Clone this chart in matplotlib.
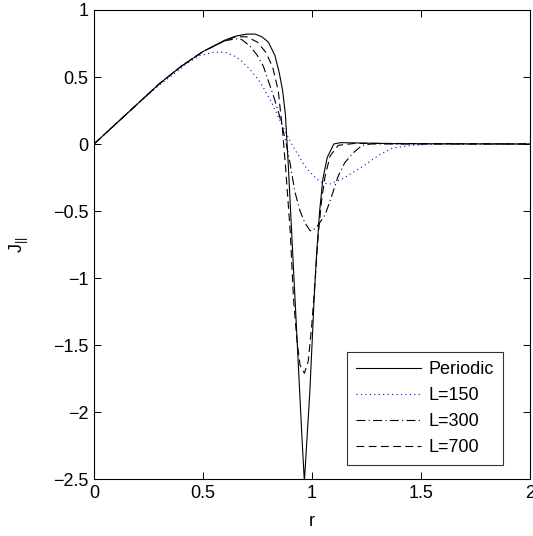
import matplotlib
matplotlib.use("Agg")
import matplotlib.pyplot as plt

plt.rcParams['font.family'] = ['Liberation Sans', 'DejaVu Sans']
plt.rcParams['mathtext.fontset'] = 'custom'
plt.rcParams['mathtext.rm'] = 'Liberation Sans'
plt.rcParams['mathtext.it'] = 'Liberation Sans'

# Periodic (solid)
r_per = [0, 0.1, 0.2, 0.3, 0.4, 0.5, 0.6, 0.65, 0.7, 0.74, 0.77, 0.8, 0.83, 0.85, 0.865,
         0.878, 0.891, 0.907, 0.93, 0.953, 0.965, 0.99, 1.01, 1.02, 1.035, 1.05, 1.07,
         1.1, 1.13, 1.2, 1.4, 2.0]
j_per = [0, 0.15, 0.30, 0.45, 0.58, 0.69, 0.775, 0.805, 0.82, 0.82, 0.80, 0.76, 0.66, 0.53,
         0.40, 0.22, -0.15, -0.67, -1.41, -2.16, -2.52, -1.85, -1.15, -0.85, -0.5, -0.26,
         -0.1, 0.0, 0.01, 0.008, 0.002, 0.0]

# L=150 (dotted blue)
r_150 = [0, 0.1, 0.2, 0.3, 0.38, 0.425, 0.486, 0.547, 0.6, 0.64, 0.67, 0.716, 0.754, 0.777,
         0.815, 0.846, 0.876, 0.9, 0.922, 0.942, 0.957, 0.975, 0.998, 1.021, 1.05, 1.08,
         1.11, 1.14, 1.17, 1.23, 1.31, 1.37, 1.46, 1.56, 2.0]
j_150 = [0, 0.15, 0.30, 0.44, 0.54, 0.60, 0.66, 0.684, 0.685, 0.66, 0.63, 0.555, 0.48, 0.42,
         0.31, 0.20, 0.10, 0.02, -0.045, -0.095, -0.14, -0.18, -0.22, -0.26, -0.29, -0.30,
         -0.28, -0.26, -0.23, -0.17, -0.08, -0.03, -0.01, 0.0, 0.0]

# L=300 (dash-dot)
r_300 = [0, 0.1, 0.2, 0.3, 0.4, 0.5, 0.6, 0.65, 0.677, 0.716, 0.75, 0.777, 0.8, 0.823,
         0.846, 0.865, 0.882, 0.9, 0.922, 0.945, 0.968, 0.99, 1.0, 1.021, 1.06, 1.09,
         1.12, 1.15, 1.19, 1.23, 1.27, 2.0]
j_300 = [0, 0.15, 0.30, 0.45, 0.58, 0.69, 0.77, 0.785, 0.78, 0.73, 0.66, 0.58, 0.47, 0.36,
         0.24, 0.12, 0.0, -0.15, -0.36, -0.50, -0.59, -0.645, -0.65, -0.62, -0.53, -0.39,
         -0.24, -0.14, -0.065, -0.01, 0.0, 0.0]

# L=700 (dashed)
r_700 = [0, 0.1, 0.2, 0.3, 0.4, 0.5, 0.6, 0.65, 0.7, 0.75, 0.79, 0.82, 0.845, 0.865,
         0.88, 0.9, 0.915, 0.93, 0.945, 0.965, 0.983, 1.0, 1.015, 1.029, 1.044, 1.06,
         1.083, 1.12, 1.2, 2.0]
j_700 = [0, 0.15, 0.30, 0.45, 0.58, 0.69, 0.77, 0.80, 0.80, 0.76, 0.68, 0.57, 0.40, 0.10,
         -0.2, -0.65, -1.15, -1.45, -1.65, -1.71, -1.62, -1.33, -1.0, -0.67, -0.42, -0.24,
         -0.09, -0.01, 0.005, 0.0]

labels = ['Periodic', 'L=150', 'L=300', 'L=700']

fig = plt.figure(figsize=(5.33, 5.36), dpi=100)
ax = fig.add_axes([94/533, 1 - 479/536, (530-94)/533, (479-10)/536])

lw = 0.8
ax.plot(r_per, j_per, color='black', lw=lw, ls='-', label=labels[0])
ax.plot(r_150, j_150, color='#0000ff', lw=lw, ls=(0, (1, 3)), label=labels[1])
ax.plot(r_300, j_300, color='black', lw=lw, ls=(0, (8, 3, 1, 3)), label=labels[2])
ax.plot(r_700, j_700, color='black', lw=lw, ls=(0, (7, 4)), label=labels[3])

ax.set_xlim(0, 2)
ax.set_ylim(-2.5, 1)
ax.set_xticks([0, 0.5, 1, 1.5, 2])
ax.set_xticklabels(['0', '0.5', '1', '1.5', '2'])
ax.set_yticks([-2.5, -2, -1.5, -1, -0.5, 0, 0.5, 1])
ax.set_yticklabels(['\u22122.5', '\u22122', '\u22121.5', '\u22121', '\u22120.5', '0', '0.5', '1'])
ax.tick_params(direction='in', top=True, right=True, length=5, width=0.7,
               labelsize=13, pad=4, colors='black')
for s in ax.spines.values():
    s.set_linewidth(0.8)

ax.set_xlabel('r', fontsize=13, labelpad=8)
ax.set_ylabel(r'$\mathregular{J_{||}}$', fontsize=13, labelpad=16)

leg = ax.legend(loc='lower right', bbox_to_anchor=(503/533, 1 - 465/536),
                bbox_transform=fig.transFigure, fontsize=13, frameon=True,
                fancybox=False, edgecolor='black', handlelength=3.6,
                handletextpad=0.4, borderpad=0.5, labelspacing=0.5, borderaxespad=0)
leg.get_frame().set_linewidth(0.8)

fig.savefig('out.png', dpi=100)
